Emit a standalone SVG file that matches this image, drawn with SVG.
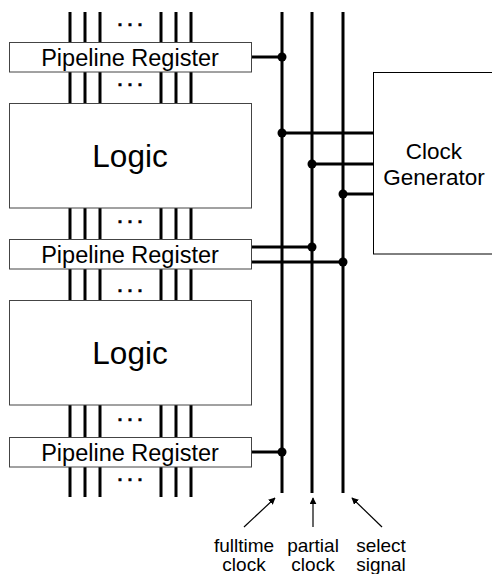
<svg xmlns="http://www.w3.org/2000/svg" width="492" height="574" viewBox="0 0 492 574">
<defs>
<style>
.box{fill:#fff;stroke:#444;stroke-width:1}
.bus{stroke:#000;stroke-width:3;fill:none}
.wire{stroke:#000;stroke-width:3;fill:none}
.dot{fill:#000}
.t{font-family:"Liberation Sans",Arial,sans-serif;fill:#000;text-anchor:middle}
.reg{font-size:23.5px}
.logic{font-size:31.5px}
.gen{font-size:22.5px}
.lbl{font-size:19px}
.ell{font-size:16px;font-weight:bold;letter-spacing:5.55px;font-family:"Liberation Sans",Arial,sans-serif;text-anchor:middle;fill:#000;stroke:#000;stroke-width:0.7}
.arr{stroke:#000;stroke-width:1.2;fill:none;marker-end:url(#ah)}
</style>
<marker id="ah" viewBox="0 0 10 10" refX="9" refY="5" markerWidth="7" markerHeight="7" markerUnits="userSpaceOnUse" orient="auto">
<path d="M0,0 L10,5 L0,10 z" fill="#000"/>
</marker>
</defs>
<g id="buses">
<path class="bus" d="M70,12V42M85,12V42M100,12V42M161,12V42M176,12V42M191,12V42"/>
<path class="bus" d="M70,72V103M85,72V103M100,72V103M161,72V103M176,72V103M191,72V103"/>
<path class="bus" d="M70,208V239M85,208V239M100,208V239M161,208V239M176,208V239M191,208V239"/>
<path class="bus" d="M70,269V300M85,269V300M100,269V300M161,269V300M176,269V300M191,269V300"/>
<path class="bus" d="M70,405V437M85,405V437M100,405V437M161,405V437M176,405V437M191,405V437"/>
<path class="bus" d="M70,467V497M85,467V497M100,467V497M161,467V497M176,467V497M191,467V497"/>
<text class="ell" x="132.8" y="26.3">...</text>
<text class="ell" x="132.8" y="86.3">...</text>
<text class="ell" x="132.8" y="223.3">...</text>
<text class="ell" x="132.8" y="292.3">...</text>
<text class="ell" x="132.8" y="421.3">...</text>
<text class="ell" x="132.8" y="481.3">...</text>
</g>
<g id="connectors">
<path class="wire" d="M282,12V493M312,12V493M343,12V493"/>
<path class="wire" d="M252,57H282"/>
<path class="wire" d="M282,133H373M312,164H373M343,194H373"/>
<path class="wire" d="M252,247H312M252,262H343"/>
<path class="wire" d="M252,452H282"/>
<circle class="dot" cx="282" cy="57" r="4.5"/>
<circle class="dot" cx="282" cy="133" r="4.5"/>
<circle class="dot" cx="312" cy="164" r="4.5"/>
<circle class="dot" cx="343" cy="194" r="4.5"/>
<circle class="dot" cx="312" cy="247" r="4.5"/>
<circle class="dot" cx="343" cy="262" r="4.5"/>
<circle class="dot" cx="282" cy="452" r="4.5"/>
<path class="arr" d="M244,527L275,498"/>
<path class="arr" d="M313,527V498"/>
<path class="arr" d="M382,527L352,498"/>
</g>
<g id="reg1"><rect class="box" x="9.5" y="42.5" width="242" height="29.5"/><text class="t reg" x="130" y="66">Pipeline Register</text></g>
<g id="logic1"><rect class="box" x="9.5" y="103.5" width="242" height="104.5"/><text class="t logic" x="130" y="167">Logic</text></g>
<g id="reg2"><rect class="box" x="9.5" y="239.5" width="242" height="29.5"/><text class="t reg" x="130" y="263">Pipeline Register</text></g>
<g id="logic2"><rect class="box" x="9.5" y="300.5" width="242" height="104.5"/><text class="t logic" x="130" y="364">Logic</text></g>
<g id="reg3"><rect class="box" x="9.5" y="437.5" width="242" height="29.5"/><text class="t reg" x="130" y="461">Pipeline Register</text></g>
<g id="clockgen"><rect class="box" x="373.5" y="72.5" width="130" height="181.5" style="stroke:#000"/><text class="t gen" x="434" y="159">Clock</text><text class="t gen" x="434" y="185">Generator</text></g>
<g id="labels">
<text class="t lbl" x="244" y="552">fulltime</text><text class="t lbl" x="244" y="571">clock</text>
<text class="t lbl" x="313" y="552">partial</text><text class="t lbl" x="313" y="571">clock</text>
<text class="t lbl" x="381" y="552">select</text><text class="t lbl" x="381" y="571">signal</text>
</g>
</svg>
